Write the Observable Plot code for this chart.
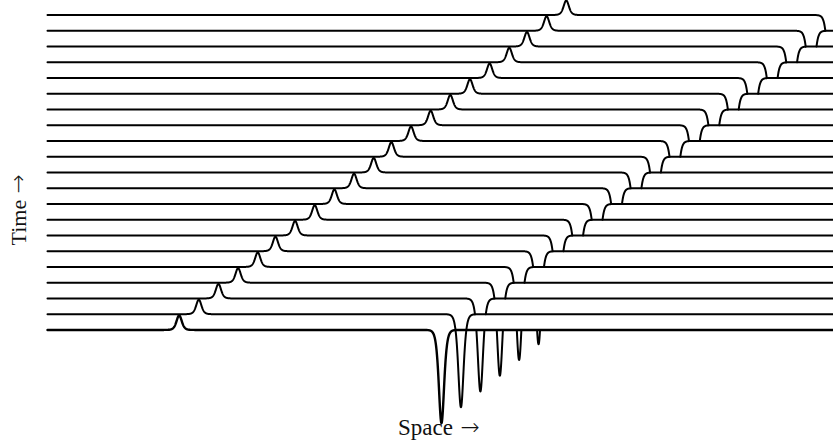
<!DOCTYPE html>
<html>
<head>
<meta charset="utf-8">
<script src="https://cdn.jsdelivr.net/npm/d3@7"></script>
<script src="https://cdn.jsdelivr.net/npm/@observablehq/plot@0.6"></script>
<style>
  html, body { margin: 0; padding: 0; background: #fff; }
  #chart svg { display: block; }
</style>
</head>
<body>
<div id="chart"></div>
<script>
// Time steps (one trace per step, bottom = first)
const times = [0,1,2,3,4,5,6,7,8,9,10,11,12,13,14,15,16,17,18,19,20];
// Position (space units) of the small positive pulse on each trace
const peakCenters = [6.7,7.7,8.7,9.7,10.7,11.6,12.6,13.6,14.6,15.6,16.6,17.5,18.5,19.5,20.5,21.5,22.5,23.5,24.4,25.4,26.4];
// Position (space units) of the deep negative pulse on each trace
const dipCenters = [20.05,21.04,22.03,23.02,24.0,24.99,25.98,26.98,27.97,28.96,29.95,30.94,31.93,32.92,33.91,34.9,35.89,36.88,37.87,38.86,39.86];
// Amplitudes and widths
const peakAmplitude = 1.0;
const dipAmplitude = -6.42;
const pulseWidth = 0.18;
const traceOffset = 1.086;   // vertical spacing between traces (in value units)
const spaceDomain = [0, 40];
const labels = { x: "Space", y: "Time", arrow: "\u2192" };

const sech2 = v => { const c = Math.cosh(v); return 1 / (c * c); };
const step = 0.01;
const xs = d3.range(spaceDomain[0], spaceDomain[1] + step / 2, step);
const N = xs.length;

// Floating-horizon hidden line removal (front trace = time 0)
const U = new Float64Array(N).fill(-Infinity);
const L = new Float64Array(N).fill(Infinity);
const pts = [];
let segId = 0;
times.forEach((t, k) => {
  const ys = xs.map(x => k * traceOffset
    + peakAmplitude * sech2((x - peakCenters[k]) / pulseWidth)
    + dipAmplitude * sech2((x - dipCenters[k]) / pulseWidth));
  const vis = i => (k === 0) || ys[i] > U[i] || ys[i] < L[i];
  const cross = (i0, i1, useUpper) => {
    const h = useUpper ? U : L;
    const d0 = ys[i0] - h[i0], d1 = ys[i1] - h[i1];
    const f = d0 / (d0 - d1);
    return { x: xs[i0] + f * (xs[i1] - xs[i0]), y: ys[i0] + f * (ys[i1] - ys[i0]) };
  };
  let prevVis = false;
  for (let i = 0; i < N; i++) {
    const v = vis(i);
    if (v) {
      if (!prevVis) {
        segId++;
        if (i > 0) {
          const c = cross(i - 1, i, ys[i] > U[i]);
          pts.push({ x: c.x, y: c.y, seg: segId, k });
        }
      }
      pts.push({ x: xs[i], y: ys[i], seg: segId, k });
    } else if (prevVis) {
      const c = cross(i - 1, i, ys[i - 1] > U[i - 1]);
      pts.push({ x: c.x, y: c.y, seg: segId, k });
    }
    prevVis = v;
  }
  for (let i = 0; i < N; i++) {
    if (ys[i] > U[i]) U[i] = ys[i];
    if (ys[i] < L[i]) L[i] = ys[i];
  }
});

const front = pts.filter(d => d.k === 0);
const back = pts.filter(d => d.k !== 0);

const serif = "'Liberation Serif', 'Times New Roman', serif";
const arrowFont = "'DejaVu Sans', sans-serif";

const chart = Plot.plot({
  width: 833,
  height: 445,
  marginLeft: 47,
  marginRight: 0,
  marginTop: 0,
  marginBottom: 0,
  x: { domain: spaceDomain, axis: null },
  y: { domain: [-7.97, 22.72], axis: null },
  marks: [
    Plot.line(back, { x: "x", y: "y", z: "seg", stroke: "black", strokeWidth: 2, strokeLinejoin: "round", strokeLinecap: "round" }),
    Plot.line(front, { x: "x", y: "y", z: "seg", stroke: "black", strokeWidth: 2.4, strokeLinejoin: "round", strokeLinecap: "round" }),
    // x label: "Space →"
    Plot.text([labels.x], { frameAnchor: "bottom", lineAnchor: "bottom", textAnchor: "start", dx: -42.5, dy: -10.5, fontSize: 23, fontFamily: serif, fill: "#111" }),
    Plot.text([labels.arrow], { frameAnchor: "bottom", lineAnchor: "bottom", textAnchor: "start", dx: 20, dy: -10.5, fontSize: 23, fontFamily: arrowFont, fontWeight: 300, fill: "#111" }),
    // y label: "Time →" (rotated)
    Plot.text([labels.y], { frameAnchor: "left", lineAnchor: "bottom", textAnchor: "start", rotate: -90, dx: -21.5, dy: 22.5, fontSize: 22, fontFamily: serif, fill: "#111" }),
    Plot.text([labels.arrow], { frameAnchor: "left", lineAnchor: "bottom", textAnchor: "start", rotate: -90, dx: -21.5, dy: -29.5, fontSize: 23, fontFamily: arrowFont, fontWeight: 300, fill: "#111" })
  ]
});
document.getElementById("chart").appendChild(chart);
</script>
</body>
</html>
